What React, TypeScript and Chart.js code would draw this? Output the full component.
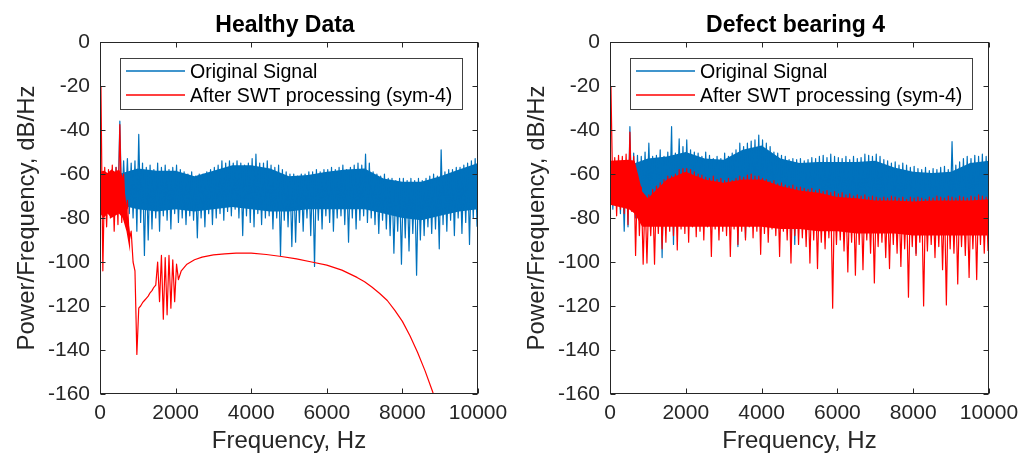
import React, { useEffect, useRef } from "react";
import { Chart, registerables } from "chart.js";

Chart.register(...registerables);

// ---------------- data ----------------
// Each noisy spectrum: per 100 Hz bin an upper (Hi) and lower (Lo) reading in dB/Hz,
// plus the edges of its dense band read every 500 Hz (BandTop / BandBottom).
const BIN_HZ = 100;
const xTickValues = [0, 2000, 4000, 6000, 8000, 10000];
const yTickValues = [0, -20, -40, -60, -80, -100, -120, -140, -160];
const bandHz = [
  0, 500, 1000, 1500, 2000, 2500, 3000, 3500, 4000, 4500, 5000,
  5500, 6000, 6500, 7000, 7500, 8000, 8500, 9000, 9500, 10000,
];

const healthyOrigHi = [
  -60, -59, -60, -58, -57, -36, -54, -53, -55, -54,
  -42, -55, -57, -56, -58, -55, -57, -56, -58, -57,
  -56, -58, -59, -60, -59, -61, -60, -60, -59, -58,
  -57, -56, -54, -55, -54, -55, -54, -55, -56, -55,
  -53, -51, -55, -55, -54, -56, -57, -56, -58, -59,
  -60, -60, -61, -60, -60, -59, -59, -58, -59, -58,
  -58, -57, -58, -57, -56, -58, -57, -56, -55, -56,
  -51, -55, -59, -60, -61, -60, -62, -62, -63, -62,
  -62, -63, -62, -63, -62, -63, -62, -61, -60, -61,
  -49, -59, -58, -58, -57, -57, -56, -55, -54, -53,
];
const healthyOrigLo = [
  -72, -74, -73, -75, -74, -76, -74, -78, -80, -86,
  -82, -97, -90, -85, -80, -86, -79, -81, -85, -78,
  -82, -80, -83, -79, -81, -89, -80, -84, -78, -83,
  -80, -78, -81, -77, -79, -76, -80, -88, -79, -82,
  -84, -78, -83, -80, -79, -85, -80, -97, -81, -84,
  -93, -91, -82, -86, -80, -88, -102, -81, -85, -79,
  -82, -86, -80, -79, -83, -91, -80, -85, -81, -79,
  -82, -80, -83, -87, -81, -85, -88, -96, -86, -101,
  -89, -95, -87, -106, -90, -88, -84, -87, -85, -94,
  -83, -86, -81, -88, -80, -87, -82, -92, -80, -84,
];
const healthyOrigBandTop = [
  -62, -60, -57.5, -58.5, -58.5, -61, -58.5, -56, -56, -57.5, -61,
  -60.5, -59, -58, -57.5, -62, -63.5, -63.5, -61, -58, -55,
];
const healthyOrigBandBottom = [
  -74, -74, -76, -77, -76, -77, -76, -75, -76, -77, -77,
  -76, -76, -76, -76, -78, -80, -81, -79, -77, -76,
];

// After SWT (healthy): noisy bins 0..2100 Hz, then a smooth curve
const healthySwtHi = [
  -20, -57, -58, -56, -57, -37.5, -60, -72, -86, -104,
  -121, -118.5, -116.5, -114, -111.5, -100, -97, -98, -97, -99, -101,
];
const healthySwtLo = [
  -104, -84, -80, -86, -83, -82, -80, -90, -100, -142,
  -120, -117.5, -115.5, -113, -110.5, -118, -126, -124, -121, -118, -108,
];
const healthySwtBandHz = [0, 100, 200, 300, 400, 500, 600, 700, 800];
const healthySwtBandTop = [-59, -58.5, -59.5, -58, -59, -58, -61, -74, -88];
const healthySwtBandBottom = [-78, -80, -78, -80, -79, -78, -80, -86, -96];
const healthySwtCurveHz = [
  2150, 2300, 2500, 2700, 3000, 3300, 3600, 4000, 4400, 4800, 5200, 5600, 6000,
  6400, 6800, 7000, 7200, 7400, 7600, 7800, 8000, 8200, 8400, 8600, 8800, 9000,
];
const healthySwtCurveDb = [
  -104, -101, -99, -97.8, -96.8, -96.3, -96, -96, -96.6, -97.5, -98.6, -100, -101.4,
  -103.7, -107, -109, -111.5, -114.3, -117.5, -122, -127, -133.5, -141, -149.5, -159, -170,
];

const defectOrigHi = [
  -55, -55, -54, -55, -54, -38.5, -50.5, -51.5, -52, -50,
  -46, -52, -51.5, -49, -52, -50, -38.5, -50.5, -44, -47.5,
  -44.5, -49, -50, -50.5, -52, -50, -51.5, -53, -52, -53,
  -50.5, -52, -50.5, -49, -46, -47.5, -46, -45, -44.5, -42.3,
  -44.5, -46, -47.5, -50, -50.5, -51.5, -52, -53.5, -53, -53.5,
  -53, -54, -53.5, -52.5, -53, -52, -51.5, -52.5, -51, -52,
  -52.5, -53, -52, -53.5, -52, -53, -52.5, -51, -51.5, -52,
  -51, -52, -53.5, -54, -55, -54.5, -56, -55, -56, -57,
  -56.5, -57.5, -58, -57, -58.5, -57.5, -58, -57, -56.5, -58,
  -45.3, -56, -54.5, -53, -52, -53, -51.5, -52, -51, -52,
];
const defectOrigLo = [
  -76, -74, -78, -86, -84, -76, -80, -78, -79, -75,
  -74, -73, -72, -98, -74, -73, -92, -73, -76, -74,
  -75, -73, -76, -74, -77, -75, -74, -76, -73, -75,
  -77, -74, -76, -93, -75, -89, -76, -77, -74, -79,
  -76, -78, -75, -77, -76, -80, -78, -90, -92, -80,
  -78, -77, -79, -78, -80, -77, -79, -78, -80, -79,
  -78, -80, -79, -78, -81, -79, -80, -78, -79, -80,
  -79, -80, -78, -81, -79, -80, -82, -79, -80, -81,
  -96, -80, -79, -81, -80, -82, -79, -80, -81, -80,
  -79, -81, -80, -79, -82, -80, -81, -79, -80, -81,
];
const defectOrigBandTop = [
  -57, -56, -53, -52, -50, -53, -53.5, -49, -47, -53, -55,
  -54.5, -54.5, -54.5, -54, -57, -59, -59.5, -59, -55, -54,
];
const defectOrigBandBottom = [
  -72, -72, -71, -72, -72, -73, -73, -73, -74, -74, -74,
  -75, -75, -75, -76, -76, -76, -76, -76, -76, -76,
];

const defectSwtHi = [
  -20, -52.5, -51.5, -52, -51, -41, -52, -60, -66, -70,
  -69.5, -67, -65.5, -64, -62.5, -61, -61, -60, -58, -57.5,
  -57.5, -58, -59, -60, -60.5, -61.5, -62, -61, -62.5, -62,
  -63, -62, -63, -62, -61, -61.5, -60.5, -60, -61, -61,
  -62, -62.5, -63.5, -63, -64.5, -64, -65, -65.5, -65, -66,
  -66, -66.5, -67, -66.5, -67.5, -67, -68, -67.5, -68.5, -68,
  -69, -68.5, -69.5, -69, -70, -69.5, -70, -69.5, -70.5, -70,
  -70.5, -71, -70.5, -71, -70, -70.5, -71, -70.5, -71.5, -70.5,
  -71, -70.5, -71, -71.5, -70.5, -71, -70, -70.5, -71, -70,
  -70.5, -71, -70, -70.5, -71, -70, -70.5, -69.5, -70, -70.5,
];
const defectSwtLo = [
  -72, -79, -76, -78, -83, -77, -97, -88, -101, -100.5,
  -88, -101, -87, -94, -91, -86, -88, -94.5, -85, -87,
  -91, -84, -88.5, -86, -90, -84, -97.5, -85, -90, -86,
  -88, -97.5, -85, -92, -86, -90, -84, -89, -86, -96.5,
  -87, -91, -85, -88, -97.5, -86, -90, -100.5, -88, -92,
  -89, -93, -100.5, -90, -103, -91, -94, -89, -121, -92,
  -90, -95, -104.5, -91, -106, -92, -103.5, -90, -96, -109.5,
  -93, -91, -98, -103, -92, -96, -102, -94, -116, -93,
  -97, -91, -120, -95, -92, -98, -93, -103.5, -119.5, -94,
  -96, -110, -93, -97, -107, -94, -108, -92, -96, -95,
];
const defectSwtBandHz = [
  0, 500, 650, 850, 1000, 1500, 2000, 2500, 3000, 3500, 4000, 4500,
  5000, 5500, 6000, 6500, 7000, 7500, 8000, 8500, 9000, 9500, 10000,
];
const defectSwtBandTop = [
  -54, -53.5, -54, -68, -71, -62.5, -59, -62.5, -64, -62.5, -62.5, -65.5,
  -67.5, -68.5, -70.5, -71, -72, -72, -72.5, -72, -72, -72, -71.5,
];
const defectSwtBandBottom = [
  -74, -76, -78, -84, -84, -84, -84, -84, -84, -84, -84, -85,
  -85, -86, -86, -87, -87, -87, -88, -88, -88, -88, -88,
];

const LABEL_ORIG = "Original Signal";
const LABEL_SWT = "After SWT processing (sym-4)";

// ---------------- styling ----------------
const BLUE = "#0072BD";
const RED = "#FF0000";
const AXIS = "#262626";
const FONT = "'Liberation Sans', Arial, Helvetica, sans-serif";

type Pt = { x: number; y: number };

function zigzag(hi: number[], lo: number[]): Pt[] {
  const pts: Pt[] = [];
  for (let i = 0; i < hi.length; i++) {
    pts.push({ x: i * BIN_HZ + 25, y: hi[i] });
    pts.push({ x: i * BIN_HZ + 75, y: lo[i] });
  }
  return pts;
}

function curve(hz: number[], db: number[]): Pt[] {
  return hz.map((f, i) => ({ x: f, y: db[i] }));
}

type Series = {
  label: string;
  color: string;
  line: Pt[];
  bandTop: Pt[];
  bandBottom: Pt[];
};

function seriesDatasets(s: Series, firstIndex: number, order: number) {
  const common = { pointRadius: 0, tension: 0 };
  return [
    {
      ...common,
      label: s.label,
      data: s.line,
      borderColor: s.color,
      backgroundColor: s.color,
      borderWidth: 1.2,
      borderJoinStyle: "round",
      fill: false,
      order,
    },
    {
      ...common,
      label: s.label + " band",
      data: s.bandTop,
      borderColor: "rgba(0,0,0,0)",
      borderWidth: 0,
      backgroundColor: s.color,
      fill: { target: firstIndex + 2 },
      order: order + 1,
    },
    {
      ...common,
      label: s.label + " band bottom",
      data: s.bandBottom,
      borderColor: "rgba(0,0,0,0)",
      borderWidth: 0,
      backgroundColor: s.color,
      fill: false,
      order: order + 1,
    },
  ];
}

function makeDecor(title: string) {
  return {
    id: "decor",
    afterDraw(chart: any) {
      const { ctx, chartArea: a, scales } = chart;
      const xs = scales.x;
      const ys = scales.y;
      ctx.save();
      const L = Math.round(a.left) + 0.5;
      const R = Math.round(a.right) - 0.5;
      const T = Math.round(a.top) + 0.5;
      const B = Math.round(a.bottom) - 0.5;

      // axes box
      ctx.strokeStyle = AXIS;
      ctx.lineWidth = 1;
      ctx.strokeRect(L, T, R - L, B - T);

      // inward tick marks on all four sides
      ctx.beginPath();
      for (const v of xTickValues) {
        const px = Math.round(xs.getPixelForValue(v)) + 0.5;
        ctx.moveTo(px, B);
        ctx.lineTo(px, B - 5);
        ctx.moveTo(px, T);
        ctx.lineTo(px, T + 5);
      }
      for (const v of yTickValues) {
        const py = Math.round(ys.getPixelForValue(v)) + 0.5;
        ctx.moveTo(L, py);
        ctx.lineTo(L + 5, py);
        ctx.moveTo(R, py);
        ctx.lineTo(R - 5, py);
      }
      ctx.stroke();

      // legend
      const lx = Math.round(a.left) + 20.5;
      const ly = Math.round(a.top) + 16.5;
      ctx.fillStyle = "#ffffff";
      ctx.fillRect(lx, ly, 342, 51);
      ctx.strokeStyle = "#404040";
      ctx.lineWidth = 1;
      ctx.strokeRect(lx, ly, 342, 51);
      const rows = [
        { label: LABEL_ORIG, color: BLUE, y: a.top + 29 },
        { label: LABEL_SWT, color: RED, y: a.top + 53 },
      ];
      ctx.font = `19.6px ${FONT}`;
      ctx.textAlign = "left";
      ctx.textBaseline = "alphabetic";
      for (const r of rows) {
        ctx.strokeStyle = r.color;
        ctx.lineWidth = 1.4;
        ctx.beginPath();
        ctx.moveTo(a.left + 26, r.y);
        ctx.lineTo(a.left + 85, r.y);
        ctx.stroke();
        ctx.fillStyle = "#000000";
        ctx.fillText(r.label, a.left + 90, r.y + 7);
      }

      // title
      const cx = (a.left + a.right) / 2;
      ctx.fillStyle = "#000000";
      ctx.font = `bold 23px ${FONT}`;
      ctx.textAlign = "center";
      ctx.fillText(title, cx - 4, a.top - 10);

      // axis titles
      ctx.fillStyle = AXIS;
      ctx.font = `24px ${FONT}`;
      ctx.fillText("Frequency, Hz", cx, a.bottom + 54);
      ctx.save();
      ctx.translate(a.left - 66, (a.top + a.bottom) / 2);
      ctx.rotate(-Math.PI / 2);
      ctx.fillText("Power/Frequency, dB/Hz", 0, 0);
      ctx.restore();

      ctx.restore();
    },
  };
}

type PanelProps = {
  left: number;
  title: string;
  yAxisWidth: number;
  rightPad: number;
  orig: Series;
  swt: Series;
};

function Panel({ left, title, yAxisWidth, rightPad, orig, swt }: PanelProps) {
  const ref = useRef<HTMLCanvasElement | null>(null);

  useEffect(() => {
    if (!ref.current) return;
    const tickFont = { family: FONT, size: 21 };
    const datasets = [...seriesDatasets(swt, 0, 0), ...seriesDatasets(orig, 3, 2)];
    const chart = new Chart(ref.current, {
      type: "line",
      data: { datasets },
      options: {
        responsive: false,
        animation: false,
        events: [],
        layout: { padding: { left: 0, right: rightPad, top: 42, bottom: 0 } },
        plugins: {
          legend: { display: false },
          tooltip: { enabled: false },
          title: { display: false },
          filler: { propagate: false },
        },
        scales: {
          x: {
            type: "linear",
            min: 0,
            max: 10000,
            grid: { display: false, drawTicks: false },
            border: { display: false },
            ticks: {
              stepSize: 2000,
              padding: 7,
              color: AXIS,
              font: tickFont,
              maxRotation: 0,
              autoSkip: false,
              callback: (v: any) => String(v),
            },
            afterFit: (s: any) => {
              s.height = 63;
            },
          },
          y: {
            type: "linear",
            min: -160,
            max: 0,
            grid: { display: false, drawTicks: false },
            border: { display: false },
            ticks: {
              stepSize: 20,
              padding: 10,
              color: AXIS,
              font: tickFont,
              callback: (v: any) => String(v),
            },
            afterFit: (s: any) => {
              s.width = yAxisWidth;
            },
          },
        },
      } as any,
      plugins: [makeDecor(title)],
    });
    return () => chart.destroy();
  }, []);

  return (
    <canvas
      ref={ref}
      width={517}
      height={457}
      style={{ position: "absolute", left, top: 0, width: 517, height: 457 }}
    />
  );
}

export default function App() {
  const healthyOrig: Series = {
    label: LABEL_ORIG,
    color: BLUE,
    line: zigzag(healthyOrigHi, healthyOrigLo),
    bandTop: curve(bandHz, healthyOrigBandTop),
    bandBottom: curve(bandHz, healthyOrigBandBottom),
  };
  const healthySwt: Series = {
    label: LABEL_SWT,
    color: RED,
    line: zigzag(healthySwtHi, healthySwtLo).concat(curve(healthySwtCurveHz, healthySwtCurveDb)),
    bandTop: curve(healthySwtBandHz, healthySwtBandTop),
    bandBottom: curve(healthySwtBandHz, healthySwtBandBottom),
  };
  const defectOrig: Series = {
    label: LABEL_ORIG,
    color: BLUE,
    line: zigzag(defectOrigHi, defectOrigLo),
    bandTop: curve(bandHz, defectOrigBandTop),
    bandBottom: curve(bandHz, defectOrigBandBottom),
  };
  const defectSwt: Series = {
    label: LABEL_SWT,
    color: RED,
    line: zigzag(defectSwtHi, defectSwtLo),
    bandTop: curve(defectSwtBandHz, defectSwtBandTop),
    bandBottom: curve(defectSwtBandHz, defectSwtBandBottom),
  };

  return (
    <div
      style={{
        position: "fixed",
        left: 0,
        top: 0,
        width: 1034,
        height: 457,
        background: "#ffffff",
        overflow: "hidden",
      }}
    >
      <Panel
        left={0}
        title="Healthy Data"
        yAxisWidth={100}
        rightPad={39}
        orig={healthyOrig}
        swt={healthySwt}
      />
      <Panel
        left={517}
        title="Defect bearing 4"
        yAxisWidth={93}
        rightPad={45}
        orig={defectOrig}
        swt={defectSwt}
      />
    </div>
  );
}
